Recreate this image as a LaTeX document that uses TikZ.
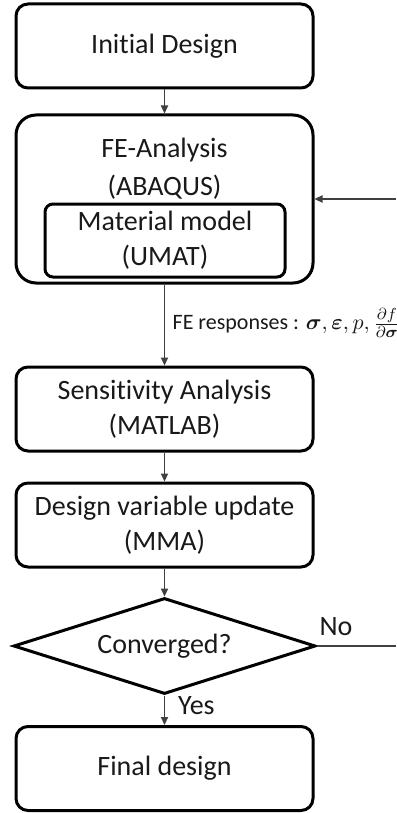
\documentclass[tikz,border=0pt]{standalone}
\usepackage{amsmath}
\usepackage{bm}
\usepackage{fontspec}
\setmainfont{Carlito}[Ligatures={NoCommon}]
\usetikzlibrary{arrows.meta,shapes.geometric}

\begin{document}
\begin{tikzpicture}
%Optimization loop flowchart
	[
	 x=0.5pt, y=-0.5pt,
	 %Styles
	 proc_box/.style={rectangle,draw=black,line width=1.5pt,rounded corners=6pt,
	   minimum width=148.5pt,minimum height=42pt,align=center,
	   text=black!90,font=\fontsize{14}{17.5}\selectfont},
	 group_box/.style={proc_box,rounded corners=10pt,minimum height=84pt},
	 inner_box/.style={proc_box,rounded corners=4pt,minimum width=120pt,minimum height=36.5pt},
	 title_text/.style={align=center,text=black!90,font=\fontsize{14}{19}\selectfont},
	 decision/.style={diamond,aspect=3.15,draw=black,line width=1.5pt,inner sep=0pt,
	   minimum width=151pt,minimum height=48pt,text=black!90,font=\fontsize{14}{17}\selectfont},
	 flow_line/.style={draw=black!75,line width=0.65pt},
	 flow_arrow/.style={flow_line,-{Triangle[length=4pt,width=3.6pt]}},
	 edge_label/.style={inner sep=0pt,text=black!90,font=\fontsize{14}{17}\selectfont},
	 resp_label/.style={inner sep=0pt,text=black!90,font=\fontsize{11}{13}\selectfont}
	]

	\useasboundingbox (0,0) rectangle (396,813);

	%Main column
	\node (init) [proc_box] at (164.5,46) {Initial Design};
	\node (fe) [group_box] at (164.5,199) {};
	\node (fetitle) [title_text] at (164.5,169) {FE-Analysis\\(ABAQUS)};
	\node (umat) [inner_box] at (165,240.5) {Material model\\(UMAT)};
	\node (sens) [proc_box] at (164.5,409) {Sensitivity Analysis\\(MATLAB)};
	\node (update) [proc_box] at (164.5,525) {Design variable update\\(MMA)};
	\node (conv) [decision] at (164.5,646) {Converged?};
	\node (final) [proc_box] at (164.5,768.5) {Final design};

	%Loop ends
	\coordinate (loopin) at (396,199);
	\coordinate (loopout) at (396,646);

	%Edges
	\draw[flow_arrow] (init) -- (fe);
	\draw[flow_arrow] (fe) -- node[resp_label,anchor=west,xshift=3.75pt,yshift=1pt]
	  {FE responses : $\bm{\sigma}, \bm{\varepsilon}, p, \frac{\partial f}{\partial \bm{\sigma}}$} (sens);
	\draw[flow_arrow] (sens) -- (update);
	\draw[flow_arrow] (update) -- (conv);
	\draw[flow_arrow] (conv) -- node[edge_label,anchor=west,pos=0.33,xshift=6.5pt] {Yes} (final);
	\draw[flow_arrow] (loopin) -- (fe.east);
	\draw[flow_line] (conv.east) -- node[edge_label,anchor=south west,pos=0,xshift=1pt,yshift=5pt] {No} (loopout);
\end{tikzpicture}
\end{document}
